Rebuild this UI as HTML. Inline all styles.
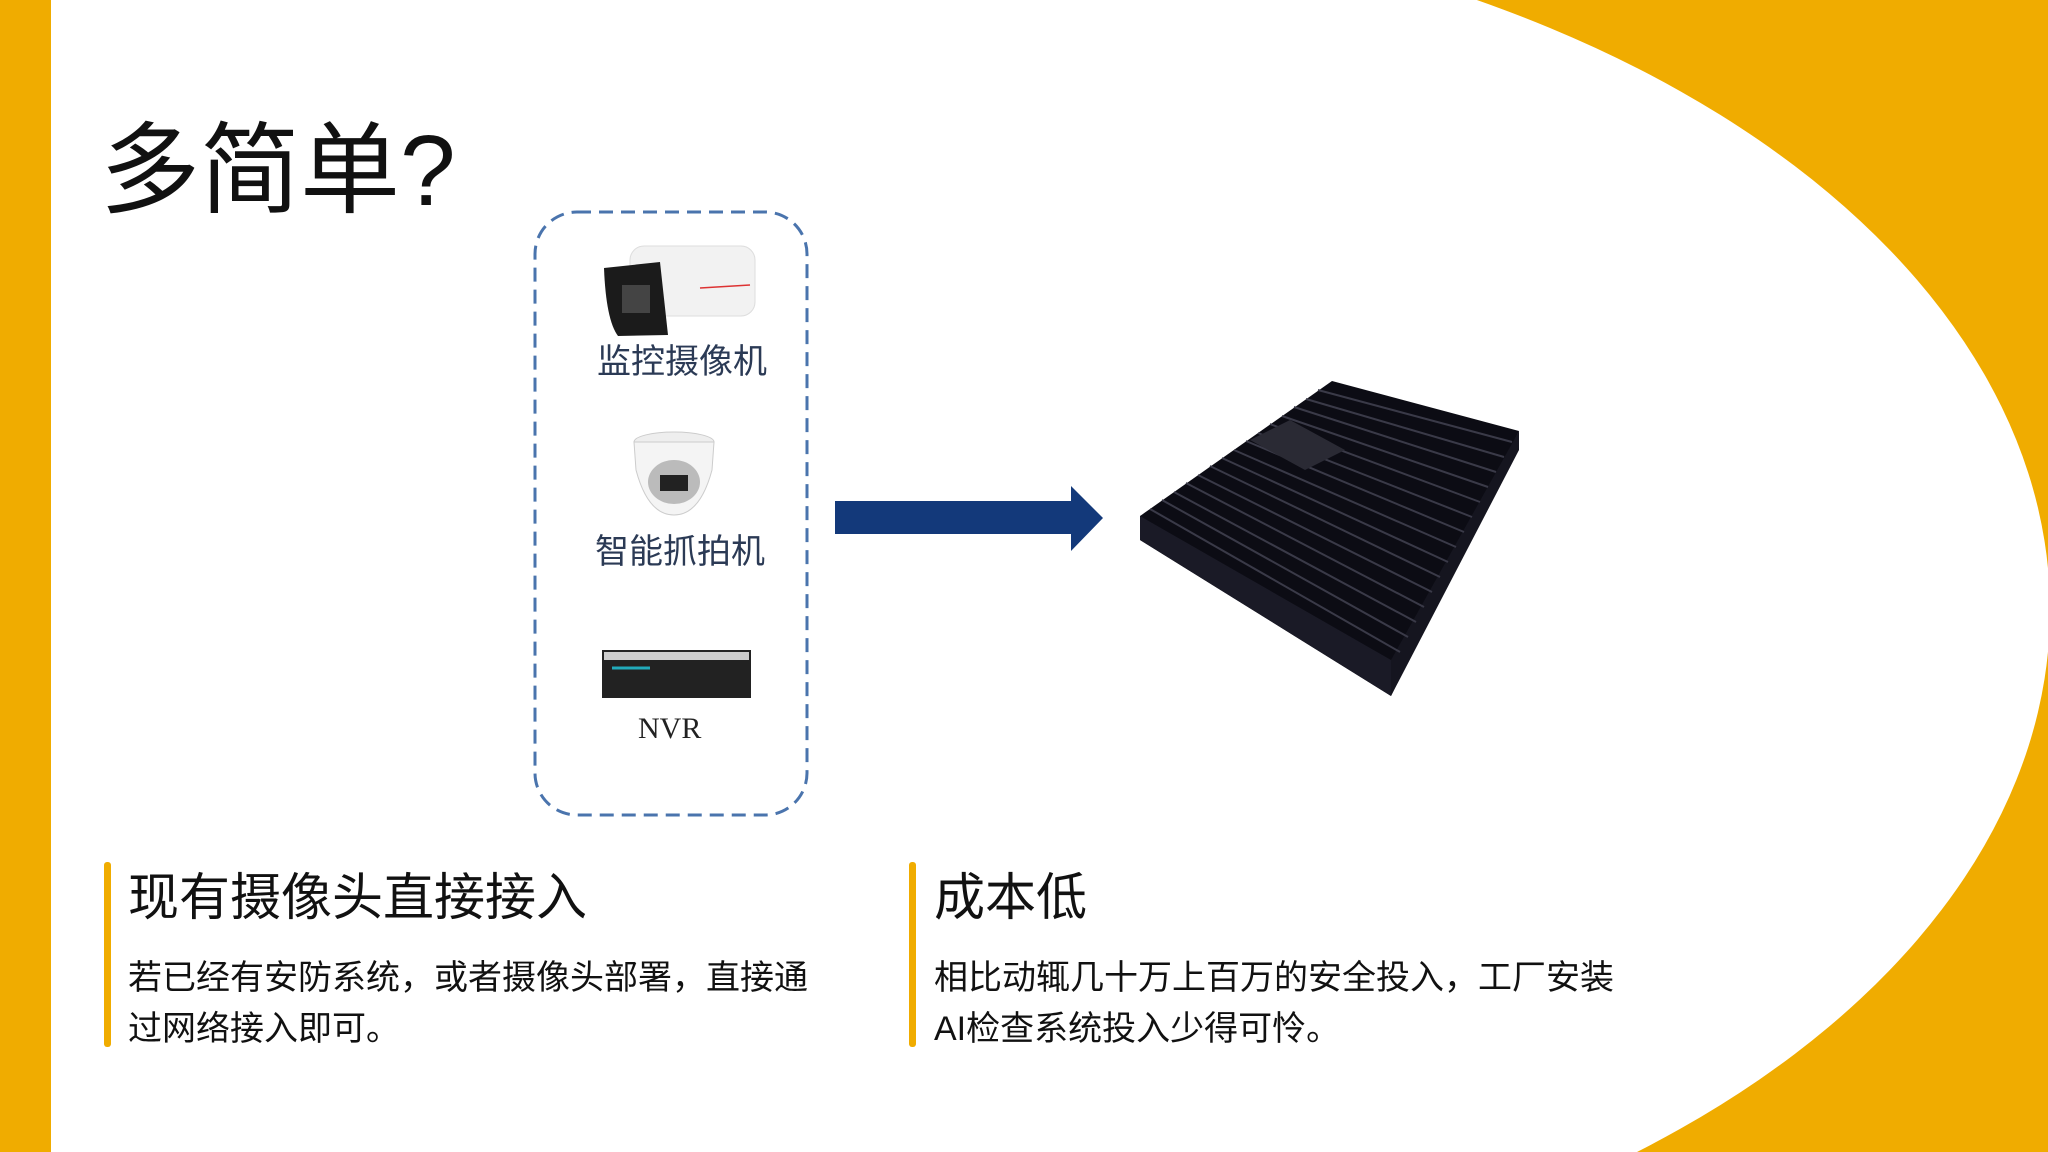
<!DOCTYPE html>
<html><head><meta charset="utf-8"><style>
html,body{margin:0;padding:0;width:2048px;height:1152px;overflow:hidden}
body{position:relative;background:#fff;font-family:"Liberation Sans","Noto Sans CJK SC",sans-serif}
svg{display:block}
.t{position:absolute;white-space:nowrap;line-height:1}
</style></head><body>
<svg width="2048" height="1152" style="position:absolute;left:0;top:0">
<rect x="1000" y="0" width="1048" height="1152" fill="#f0ac00"/>
<ellipse cx="925" cy="610" rx="1125" ry="700" fill="#fff"/>
<rect x="0" y="0" width="51" height="1152" fill="#f0ac00"/>
<rect x="535" y="212" width="272" height="603" rx="42" fill="none" stroke="#4a74ad" stroke-width="3" stroke-dasharray="14 8"/>
<polygon points="835,501 1071,501 1071,486 1103,518 1071,551 1071,534 835,534" fill="#13397a"/>
<rect x="630" y="246" width="125" height="70" rx="14" fill="#f2f2f2" stroke="#ddd"/>
<path d="M604 268 L660 262 L668 335 L618 336 Q606 320 604 268Z" fill="#1b1b1b"/>
<rect x="622" y="285" width="28" height="28" fill="#444"/>
<line x1="700" y1="288" x2="750" y2="285" stroke="#d33" stroke-width="1.5"/>
<ellipse cx="674" cy="442" rx="40" ry="10" fill="#eee" stroke="#ccc"/>
<path d="M634 442 L714 442 L712 470 Q700 515 674 515 Q648 515 636 470Z" fill="#f4f4f4" stroke="#ccc"/>
<ellipse cx="674" cy="482" rx="26" ry="22" fill="#bbb"/>
<rect x="660" y="475" width="28" height="16" fill="#222"/>
<rect x="602" y="650" width="149" height="48" fill="#222"/>
<rect x="604" y="652" width="145" height="8" fill="#ccc"/>
<line x1="612" y1="668" x2="650" y2="668" stroke="#2ab" stroke-width="3"/>
<polygon points="1140,516 1332,381 1519,431 1391,696 1140,540" fill="#0c0c14"/>
<polygon points="1140,516 1391,660 1391,696 1140,540" fill="#1a1a26"/>
<polygon points="1391,660 1519,431 1519,450 1391,696" fill="#15151f"/>
<g stroke="#3a3a48" stroke-width="2">
<line x1="1150" y1="509" x2="1400" y2="652"/><line x1="1162" y1="500" x2="1408" y2="637"/>
<line x1="1174" y1="492" x2="1416" y2="622"/><line x1="1186" y1="483" x2="1424" y2="607"/>
<line x1="1198" y1="475" x2="1432" y2="592"/><line x1="1210" y1="466" x2="1440" y2="577"/>
<line x1="1222" y1="458" x2="1448" y2="562"/><line x1="1234" y1="450" x2="1456" y2="547"/>
<line x1="1246" y1="441" x2="1464" y2="532"/><line x1="1258" y1="433" x2="1472" y2="517"/>
<line x1="1270" y1="424" x2="1480" y2="502"/><line x1="1282" y1="416" x2="1488" y2="487"/>
<line x1="1294" y1="407" x2="1496" y2="472"/><line x1="1306" y1="399" x2="1504" y2="457"/>
<line x1="1318" y1="390" x2="1512" y2="442"/>
</g>
<polygon points="1250,440 1290,420 1345,450 1305,470" fill="#2a2a34"/>
<rect x="104" y="862" width="7" height="185" rx="3" fill="#f0ac00"/>
<rect x="909" y="862" width="7" height="185" rx="3" fill="#f0ac00"/>
</svg>
<div class="t" style="left:100px;top:121px;font-size:100px;color:#111">多简单?</div>
<div class="t" style="left:597px;top:345px;font-size:34px;color:#2b3a55">监控摄像机</div>
<div class="t" style="left:595px;top:535px;font-size:34px;color:#2b3a55">智能抓拍机</div>
<div class="t" style="left:638px;top:714px;font-size:30px;color:#222;font-family:'Liberation Serif',serif">NVR</div>
<div class="t" style="left:128px;top:872px;font-size:51px;color:#111">现有摄像头直接接入</div>
<div class="t" style="left:128px;top:953px;font-size:34px;color:#111;line-height:51px">若已经有安防系统，或者摄像头部署，直接通<br>过网络接入即可。</div>
<div class="t" style="left:934px;top:872px;font-size:51px;color:#111">成本低</div>
<div class="t" style="left:934px;top:953px;font-size:34px;color:#111;line-height:51px">相比动辄几十万上百万的安全投入，工厂安装<br>AI检查系统投入少得可怜。</div>
</body></html>
